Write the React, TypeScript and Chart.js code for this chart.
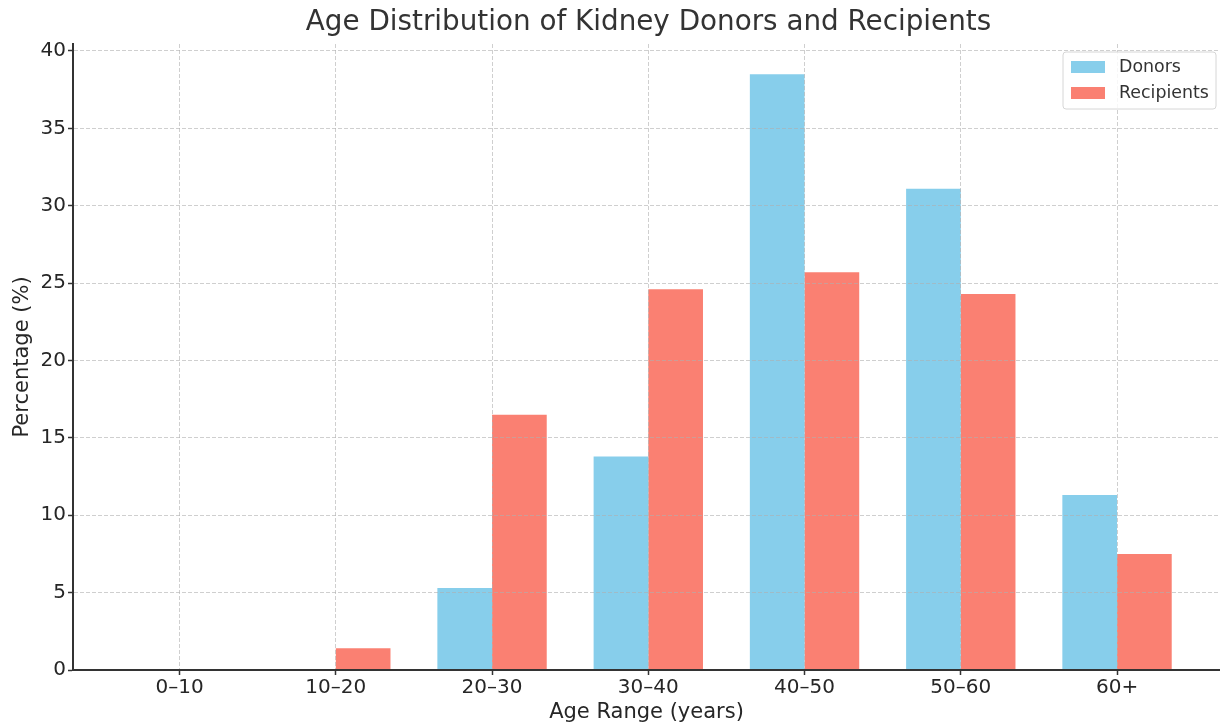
import React, { useEffect, useRef } from "react";
import { Chart, registerables } from "chart.js";

Chart.register(...registerables);

const categories = ["0–10", "10–20", "20–30", "30–40", "40–50", "50–60", "60+"];
const donors = [0, 0, 5.3, 13.8, 38.5, 31.1, 11.3];
const recipients = [0, 1.4, 16.5, 24.6, 25.7, 24.3, 7.5];
const yTicks = [0, 5, 10, 15, 20, 25, 30, 35, 40];
const seriesNames = ["Donors", "Recipients"];
const seriesColors = ["#87CEEB", "#FA8072"];
const chartTitle = "Age Distribution of Kidney Donors and Recipients";

const FONT = "'DejaVu Sans', sans-serif";

const titlePlugin = {
  id: "axesTitle",
  afterDraw(chart: any) {
    const ctx = chart.ctx;
    const area = chart.chartArea;
    ctx.save();
    ctx.font = `27.8px ${FONT}`;
    ctx.fillStyle = "#333333";
    ctx.textAlign = "center";
    ctx.textBaseline = "middle";
    ctx.fillText(chartTitle, area.left + (area.right - area.left) / 2 + 2, 22.5);
    ctx.restore();
  },
};

const insideLegend = {
  id: "insideLegend",
  afterDraw(chart: any) {
    const ctx = chart.ctx;
    const area = chart.chartArea;
    const boxW = 153;
    const boxH = 57;
    const x = area.right - 4 - boxW;
    const y = area.top + 8;
    ctx.save();
    ctx.beginPath();
    const r = 3;
    ctx.moveTo(x + r, y);
    ctx.arcTo(x + boxW, y, x + boxW, y + boxH, r);
    ctx.arcTo(x + boxW, y + boxH, x, y + boxH, r);
    ctx.arcTo(x, y + boxH, x, y, r);
    ctx.arcTo(x, y, x + boxW, y, r);
    ctx.closePath();
    ctx.fillStyle = "rgba(255,255,255,0.85)";
    ctx.fill();
    ctx.strokeStyle = "#d6d6d6";
    ctx.lineWidth = 1;
    ctx.stroke();
    ctx.font = `17.4px ${FONT}`;
    ctx.textBaseline = "middle";
    ctx.textAlign = "left";
    chart.data.datasets.forEach((ds: any, i: number) => {
      const cy = y + 15 + i * 26;
      ctx.fillStyle = ds.backgroundColor;
      ctx.fillRect(x + 8, cy - 6, 34, 12);
      ctx.fillStyle = "#333333";
      ctx.fillText(ds.label, x + 56, cy);
    });
    ctx.restore();
  },
};

export default function App() {
  const canvasRef = useRef<HTMLCanvasElement | null>(null);

  useEffect(() => {
    document.body.style.margin = "0";
    const canvas = canvasRef.current;
    if (!canvas) return;
    const gridColor = "rgba(175,175,175,0.6)";
    const gridOpts: any = {
      color: gridColor,
      lineWidth: 1,
      z: 1,
      offset: false,
      drawTicks: true,
      tickLength: 5,
      tickColor: "#333333",
      tickWidth: 1.5,
      tickBorderDash: [],
    };
    const borderOpts: any = { display: true, color: "#333333", width: 2, dash: [4, 2], z: 2 };
    const chart = new Chart(canvas, {
      type: "bar",
      data: {
        datasets: [donors, recipients].map((vals, k) => ({
          label: seriesNames[k],
          data: vals.map((v, i) => ({ x: i, y: v })),
          backgroundColor: seriesColors[k],
          borderWidth: 0,
          categoryPercentage: 0.7,
          barPercentage: 1.0,
        })),
      },
      options: {
        responsive: false,
        animation: false,
        devicePixelRatio: 1,
        layout: { padding: { left: 0, right: 0, top: 44, bottom: 0 } },
        plugins: {
          legend: { display: false },
          tooltip: { enabled: false },
          title: { display: false },
        },
        scales: {
          x: {
            type: "linear",
            min: -0.682,
            max: 6.659,
            offset: false,
            afterBuildTicks: (scale: any) => {
              scale.ticks = categories.map((_, i) => ({ value: i }));
            },
            afterFit: (scale: any) => {
              scale.height = 56;
            },
            ticks: {
              autoSkip: false,
              maxRotation: 0,
              padding: 1,
              color: "#262626",
              font: { family: FONT, size: 20 },
              callback: (v: any) => categories[Math.round(v)] ?? "",
            },
            grid: gridOpts,
            border: borderOpts,
            title: {
              display: true,
              text: "Age Range (years)",
              color: "#262626",
              font: { family: FONT, size: 21 },
              padding: { top: 0, bottom: 1 },
            },
          },
          y: {
            min: 0,
            max: 40.45,
            afterBuildTicks: (scale: any) => {
              scale.ticks = yTicks.map((v) => ({ value: v }));
            },
            afterFit: (scale: any) => {
              scale.width = 73;
            },
            ticks: {
              padding: 2,
              color: "#262626",
              font: { family: FONT, size: 20 },
            },
            grid: gridOpts,
            border: borderOpts,
            title: {
              display: true,
              text: "Percentage (%)",
              color: "#262626",
              font: { family: FONT, size: 21 },
              padding: { top: 10, bottom: 0 },
            },
          },
        },
      },
      plugins: [titlePlugin, insideLegend],
    });
    return () => chart.destroy();
  }, []);

  return (
    <div style={{ width: 1220, height: 726 }}>
      <canvas ref={canvasRef} width={1220} height={726} style={{ display: "block" }} />
    </div>
  );
}
